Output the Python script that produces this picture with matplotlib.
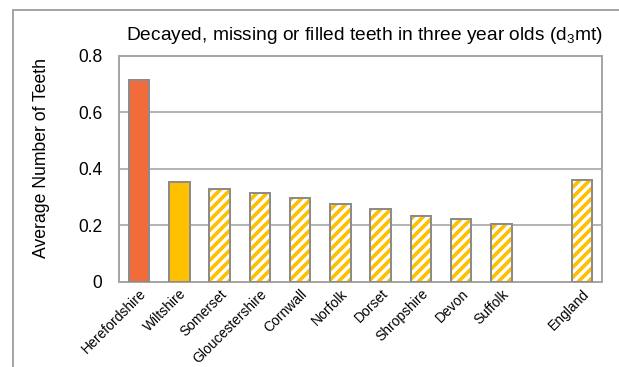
import matplotlib
matplotlib.use("Agg")
import matplotlib.pyplot as plt
import matplotlib.patches as mpatches
import numpy as np

categories = ["Herefordshire", "Wiltshire", "Somerset", "Gloucestershire", "Cornwall",
              "Norfolk", "Dorset", "Shropshire", "Devon", "Suffolk", "England"]
values = [0.714, 0.354, 0.327, 0.315, 0.297, 0.275, 0.256, 0.234, 0.221, 0.203, 0.360]
y_ticks = [0, 0.2, 0.4, 0.6, 0.8]
y_tick_labels = ["0", "0.2", "0.4", "0.6", "0.8"]
title = "Decayed, missing or filled teeth in three year olds (d$\\mathregular{_3}$mt)"
ylabel = "Average Number of Teeth"

ORANGE = "#F26B3A"
GOLD = "#FFC000"
EDGE = "#8C8C8C"
GRID = "#A6A6A6"

plt.rcParams["font.family"] = ["Liberation Sans", "DejaVu Sans"]
plt.rcParams["mathtext.fontset"] = "custom"
plt.rcParams["mathtext.rm"] = "Liberation Sans"
plt.rcParams["hatch.linewidth"] = 2.2

DPI = 120
fig = plt.figure(figsize=(619 / DPI, 367 / DPI), dpi=DPI)
ax = fig.add_axes([119 / 619, 1 - 281.7 / 367, (602 - 119) / 619, (281.7 - 55.7) / 367])

# positions: a gap before the last (England) bar
x = np.arange(len(categories), dtype=float)
x[-1] += 1

solid_colors = {0: ORANGE, 1: GOLD}
w = 0.51
for i, (xi, v) in enumerate(zip(x, values)):
    if i in solid_colors:
        ax.bar(xi, v, width=w, color=solid_colors[i], edgecolor=EDGE, linewidth=1.2, zorder=3)
    else:
        ax.bar(xi, v, width=w, facecolor="white", edgecolor=GOLD, hatch="////", linewidth=0, zorder=3)
        ax.bar(xi, v, width=w, fill=False, edgecolor=EDGE, linewidth=1.2, zorder=4)

ax.set_xlim(-0.5, x[-1] + 0.5)
ax.set_ylim(0, 0.8)
ax.set_yticks(y_ticks)
ax.set_yticklabels(y_tick_labels, fontsize=10.5)
ax.set_xticks(x)
ax.set_xticklabels(categories, rotation=45, ha="right", rotation_mode="anchor", fontsize=8.3)
ax.tick_params(axis="both", length=0)
ax.tick_params(axis="y", pad=10)
ax.tick_params(axis="x", pad=3)
ax.yaxis.grid(True, color=GRID, linewidth=1.0, zorder=0)
ax.set_axisbelow(True)
for s in ax.spines.values():
    s.set_color(GRID)
    s.set_linewidth(1.2)

fig.text(42 / 619, 1 - 158 / 367, ylabel, rotation=90, ha="center", va="center", fontsize=10.6)
fig.text(364.5 / 619, 1 - 36 / 367, title, ha="center", va="center", fontsize=11.5)

frame = mpatches.Rectangle((12.5 / 619, -0.5), 2.0, 0.5 + (1 - 10 / 367), transform=fig.transFigure,
                           fill=False, edgecolor=GRID, linewidth=1.2, clip_on=False)
fig.patches.append(frame)

fig.savefig("out.png", dpi=DPI)
